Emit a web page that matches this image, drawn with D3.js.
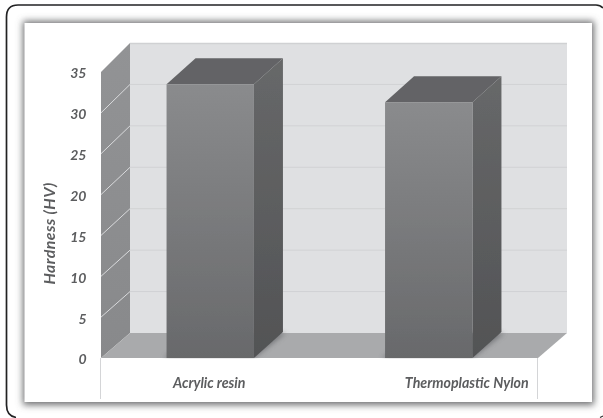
<!DOCTYPE html>
<html>
<head>
<meta charset="utf-8">
<script src="https://cdn.jsdelivr.net/npm/d3@7"></script>
<style>
    html, body { margin: 0; padding: 0; background: #fff; }
    svg { display: block; }
    text { font-family: Lato, "Open Sans", sans-serif; font-style: italic; font-weight: 700; fill: #5c5d5f; }
</style>
</head>
<body>
<svg id="chart" width="603" height="418"></svg>
<script>
const categories = ["Acrylic resin", "Thermoplastic Nylon"];
const hardness = [33.5, 31.3];
const yTicks = [0, 5, 10, 15, 20, 25, 30, 35];
const yTitle = "Hardness (HV)";
const labelShift = [-1, 38]; // category labels are not centred on the bars in the original

const w = 603, h = 418;
const depthX = 29, depthY = 26; // 3d offset of the back wall

const svg = d3.select("#chart").attr("width", w).attr("height", h);
const defs = svg.append("defs");

// gradients + filters
const addGradient = (id, top, bottom) => {
    const g = defs.append("linearGradient").attr("id", id)
        .attr("x1", 0).attr("y1", 0).attr("x2", 0).attr("y2", 1);
    g.append("stop").attr("offset", "0%").attr("stop-color", top);
    g.append("stop").attr("offset", "100%").attr("stop-color", bottom);
};
addGradient("barFront", "#8a8b8d", "#68696b");
addGradient("barSide", "#676869", "#525355");
addGradient("sideWall", "#929395", "#88898b");

defs.append("filter").attr("id", "shadow")
    .attr("x", "-10%").attr("y", "-10%").attr("width", "120%").attr("height", "120%")
    .append("feGaussianBlur").attr("stdDeviation", 3.5);
defs.append("filter").attr("id", "soft")
    .attr("x", "-20%").attr("y", "-20%").attr("width", "140%").attr("height", "140%")
    .append("feGaussianBlur").attr("stdDeviation", 2.5);
defs.append("filter").attr("id", "print")
    .attr("x", "0").attr("y", "0").attr("width", "100%").attr("height", "100%")
    .attr("filterUnits", "userSpaceOnUse")
    .append("feGaussianBlur").attr("stdDeviation", 0.45);

const root = svg.append("g").attr("filter", "url(#print)");
root.append("rect").attr("width", w).attr("height", h).attr("fill", "#fff");

// outer rounded frame, runs off the right and bottom of the picture
root.append("path")
    .attr("d", "M16,417.5 Q6.5,416 6.5,405 V17 Q6.5,5 18,5 H596 Q600,5 603,8")
    .attr("fill", "none").attr("stroke", "#222224").attr("stroke-width", 1.7);
root.append("path")
    .attr("d", "M600,417.5 L603,416")
    .attr("fill", "none").attr("stroke", "#2b2b2d").attr("stroke-width", 1.2);

// card with shadow
root.append("rect")
    .attr("x", 23).attr("y", 21).attr("width", 571).attr("height", 384)
    .attr("fill", "#6d6e70").attr("filter", "url(#shadow)");
root.append("rect")
    .attr("x", 24.5).attr("y", 23).attr("width", 567.5).attr("height", 379)
    .attr("fill", "#fff");

// scales
const xScale = d3.scaleBand()
    .domain(categories)
    .range([101, 538])
    .paddingInner(0.6)
    .paddingOuter(0.3);
const yFront = d3.scaleLinear().domain([0, 35]).range([358, 72]);
const yBack = d3.scaleLinear().domain([0, 35]).range([333, 43]);

const poly = pts => pts.map(p => p.join(",")).join(" ");
const x0 = xScale.range()[0], x1 = xScale.range()[1];

// back wall
root.append("rect")
    .attr("x", x0 + depthX).attr("y", yBack(35))
    .attr("width", x1 - x0).attr("height", yBack(0) - yBack(35))
    .attr("fill", "#dfe0e2");
root.append("line")
    .attr("x1", x0 + depthX).attr("x2", x1 + depthX)
    .attr("y1", yBack(35) + 0.5).attr("y2", yBack(35) + 0.5)
    .attr("stroke", "#d0d1d3").attr("stroke-width", 1.5);

// side wall
root.append("polygon")
    .attr("points", poly([[x0, yFront(0)], [x0 + depthX, yBack(0)], [x0 + depthX, yBack(35)], [x0, yFront(35)]]))
    .attr("fill", "url(#sideWall)");

// grid lines
const gridTicks = yTicks.filter(d => d > 0 && d < 35);
root.append("g").selectAll("line")
    .data(gridTicks)
    .join("line")
    .attr("x1", x0 + depthX).attr("x2", x1 + depthX)
    .attr("y1", d => yBack(d)).attr("y2", d => yBack(d))
    .attr("stroke", "#d1d2d4").attr("stroke-width", 1);
root.append("g").selectAll("line")
    .data(gridTicks)
    .join("line")
    .attr("x1", x0).attr("x2", x0 + depthX)
    .attr("y1", d => yFront(d)).attr("y2", d => yBack(d))
    .attr("stroke", "#d9dadc").attr("stroke-width", 1);

// floor
root.append("polygon")
    .attr("points", poly([[x0, yFront(0)], [x0 + depthX, yBack(0)], [x1 + depthX, yBack(0)], [x1, yFront(0)]]))
    .attr("fill", "#a9aaac");

// bars
const bw = xScale.bandwidth();
const barData = categories.map((c, i) => ({ name: c, value: hardness[i] }));

// contact shadow on the floor
root.append("g").selectAll("polygon")
    .data(barData)
    .join("polygon")
    .attr("points", d => {
        const a = xScale(d.name), b = a + bw;
        return poly([[a - 3, yFront(0)], [b, yFront(0)], [b + depthX + 3, yBack(0)], [a + depthX, yBack(0)]]);
    })
    .attr("fill", "#55565a").attr("opacity", 0.6).attr("filter", "url(#soft)");
// re-cover what the blur spilled below the floor
root.append("rect")
    .attr("x", x0).attr("y", yFront(0) + 0.5)
    .attr("width", x1 - x0 - 1).attr("height", 8)
    .attr("fill", "#fff");

// white strip below the floor, with the two end ticks
root.append("g").selectAll("line")
    .data([x0, x1])
    .join("line")
    .attr("x1", d => d - 0.5).attr("x2", d => d - 0.5)
    .attr("y1", yFront(0)).attr("y2", 399)
    .attr("stroke", "#d4d5d7").attr("stroke-width", 1);

const barFaces = root.append("g").selectAll("g")
    .data(barData)
    .join("g");
// top face
barFaces.append("polygon")
    .attr("points", d => {
        const a = xScale(d.name), b = a + bw, t = yFront(d.value);
        return poly([[a, t], [a + depthX, t - depthY], [b + depthX, t - depthY], [b, t]]);
    })
    .attr("fill", "#636466");
// side face
barFaces.append("polygon")
    .attr("points", d => {
        const b = xScale(d.name) + bw, t = yFront(d.value);
        return poly([[b, t], [b + depthX, t - depthY], [b + depthX, yFront(0) - depthY], [b, yFront(0)]]);
    })
    .attr("fill", "url(#barSide)");
// front face
barFaces.append("rect")
    .attr("x", d => xScale(d.name))
    .attr("y", d => yFront(d.value))
    .attr("width", bw)
    .attr("height", d => yFront(0) - yFront(d.value))
    .attr("fill", "url(#barFront)");

// y axis labels
const yAxis = d3.axisLeft(yFront).tickValues(yTicks).tickSize(0).tickPadding(0);
const yG = root.append("g")
    .attr("transform", "translate(86.5,1.5)")
    .call(yAxis);
yG.select(".domain").remove();
yG.selectAll("text")
    .style("font-size", "14px")
    .attr("font-size", null)
    .attr("font-family", null);

// y title
root.append("text")
    .attr("x", -233.5)
    .attr("y", 54.5)
    .attr("transform", "rotate(-90)")
    .attr("text-anchor", "middle")
    .style("font-size", "16px")
    .style("letter-spacing", "0.4px")
    .text(yTitle);

// category labels
root.append("g").selectAll("text")
    .data(categories)
    .join("text")
    .attr("x", (d, i) => xScale(d) + bw / 2 + labelShift[i])
    .attr("y", 387.5)
    .attr("text-anchor", "middle")
    .style("font-size", "14.2px")
    .text(d => d);
</script>
</body>
</html>
